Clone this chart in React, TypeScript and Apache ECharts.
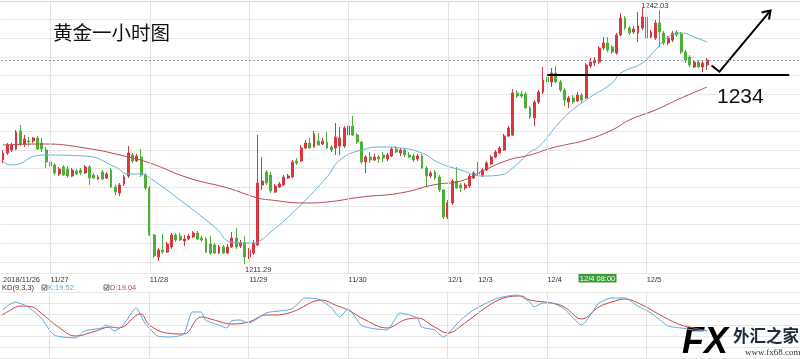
import React, { useEffect, useRef } from "react";
import * as echarts from "echarts";

// ---- time axis ----
const hours = [
  "00:00", "01:00", "02:00", "03:00", "04:00", "05:00", "06:00",
  "08:00", "09:00", "10:00", "11:00", "12:00", "13:00", "14:00", "15:00",
  "16:00", "17:00", "18:00", "19:00", "20:00", "21:00", "22:00", "23:00",
];
// [day, first hour slot, end hour slot (exclusive)]
const sessions: [string, number, number][] = [
  ["11/26", 12, 23], ["11/27", 0, 23], ["11/28", 0, 23], ["11/29", 0, 23],
  ["11/30", 0, 23], ["12/1", 0, 7], ["12/3", 7, 23], ["12/4", 0, 23],
  ["12/5", 0, 23], ["12/6", 0, 13],
];
const dayLabels = ["2018/11/26", "11/27", "11/28", "11/29", "11/30", "12/1", "12/3", "12/4", "12/5"];

// ---- hourly candles [open, close, low, high] ----
const candles: number[][] = [
  // 11/26
  [1223.8, 1224.64, 1223.44, 1225.0], [1224.64, 1225.6, 1224.4, 1225.84], [1225.0, 1225.6, 1224.76, 1225.84],
  [1225.12, 1227.16, 1225.0, 1227.4], [1227.28, 1225.72, 1225.48, 1228.0], [1225.72, 1226.32, 1225.36, 1226.8],
  [1226.08, 1225.96, 1225.48, 1226.56], [1226.08, 1226.44, 1225.84, 1226.56], [1226.44, 1225.12, 1225.0, 1226.68],
  [1225.84, 1225.12, 1224.76, 1226.44], [1225.0, 1223.56, 1222.84, 1225.36],
  // 11/27
  [1223.56, 1223.08, 1222.6, 1223.8], [1223.2, 1222.24, 1222.0, 1223.44], [1222.12, 1222.72, 1221.88, 1222.96],
  [1222.96, 1222.0, 1221.88, 1223.2], [1222.72, 1221.88, 1221.64, 1223.08], [1221.88, 1222.6, 1221.76, 1222.84],
  [1222.48, 1222.12, 1222.0, 1222.72], [1222.6, 1222.24, 1222.0, 1222.84], [1222.24, 1222.96, 1222.12, 1223.2],
  [1222.96, 1221.64, 1220.8, 1223.2], [1222.0, 1221.64, 1221.52, 1222.24], [1221.52, 1221.76, 1221.4, 1222.0],
  [1222.36, 1221.52, 1221.4, 1222.6], [1221.64, 1222.12, 1221.52, 1222.36], [1222.6, 1220.56, 1220.44, 1222.84],
  [1220.56, 1219.96, 1219.6, 1220.8], [1219.84, 1220.8, 1219.48, 1221.04], [1220.92, 1221.76, 1220.68, 1222.0],
  [1221.88, 1224.64, 1221.64, 1225.48], [1224.4, 1223.68, 1223.44, 1224.64], [1223.68, 1224.28, 1223.56, 1224.52],
  [1224.16, 1222.0, 1221.76, 1225.12], [1222.0, 1220.44, 1220.2, 1222.24],
  // 11/28
  [1220.44, 1214.8, 1214.68, 1220.68], [1214.8, 1212.28, 1212.04, 1214.92], [1212.16, 1213.0, 1211.68, 1213.24],
  [1213.0, 1212.76, 1212.52, 1214.92], [1212.76, 1213.72, 1212.64, 1213.96], [1213.36, 1214.8, 1213.12, 1215.04],
  [1214.8, 1214.2, 1213.96, 1215.04], [1214.68, 1214.2, 1214.08, 1215.04], [1214.08, 1214.32, 1213.48, 1214.8],
  [1214.32, 1214.68, 1214.2, 1214.92], [1214.56, 1215.04, 1214.44, 1215.28], [1215.04, 1214.32, 1214.2, 1215.28],
  [1214.44, 1214.2, 1213.96, 1214.68], [1214.32, 1212.76, 1212.64, 1214.56], [1213.72, 1212.64, 1212.4, 1214.68],
  [1213.6, 1212.64, 1212.52, 1213.84], [1212.64, 1213.36, 1212.52, 1213.6], [1213.36, 1212.64, 1212.52, 1213.6],
  [1212.64, 1213.36, 1212.52, 1213.72], [1213.36, 1214.44, 1213.24, 1215.16], [1214.44, 1213.36, 1213.12, 1215.64],
  [1213.48, 1213.84, 1213.24, 1214.2], [1213.84, 1212.16, 1211.29, 1214.68],
  // 11/29
  [1212.16, 1213.0, 1211.92, 1213.24], [1212.64, 1213.84, 1212.4, 1214.2], [1213.6, 1221.04, 1213.48, 1226.8],
  [1220.8, 1221.28, 1220.2, 1224.16], [1222.36, 1221.04, 1220.8, 1222.6], [1222.0, 1220.08, 1219.84, 1222.36],
  [1219.96, 1220.68, 1219.84, 1220.92], [1220.56, 1220.92, 1220.44, 1221.16], [1220.8, 1221.76, 1220.68, 1222.0],
  [1221.64, 1221.88, 1221.52, 1222.12], [1221.76, 1223.56, 1221.64, 1223.8], [1223.68, 1223.44, 1223.2, 1224.04],
  [1223.68, 1225.24, 1223.56, 1225.6], [1225.24, 1225.84, 1225.12, 1226.2], [1225.84, 1225.24, 1225.12, 1226.44],
  [1225.36, 1226.92, 1225.24, 1227.28], [1226.08, 1225.6, 1225.48, 1227.04], [1225.72, 1226.08, 1225.6, 1226.44],
  [1225.96, 1225.24, 1225.12, 1227.16], [1225.36, 1225.0, 1224.76, 1225.6], [1225.24, 1226.56, 1224.4, 1228.24],
  [1225.48, 1226.44, 1224.4, 1227.76], [1225.48, 1227.64, 1225.24, 1227.88],
  // 11/30
  [1226.8, 1227.88, 1226.56, 1228.84], [1227.88, 1226.8, 1226.68, 1229.08], [1226.8, 1225.96, 1225.72, 1227.04],
  [1225.96, 1223.56, 1223.32, 1226.08], [1223.56, 1224.16, 1222.24, 1224.4], [1224.16, 1223.8, 1223.44, 1224.76],
  [1223.8, 1224.16, 1223.68, 1224.52], [1224.16, 1223.92, 1223.44, 1224.4], [1224.4, 1224.04, 1223.56, 1224.76],
  [1223.92, 1224.4, 1223.68, 1224.64], [1224.28, 1225.12, 1224.16, 1225.36], [1225.12, 1224.76, 1224.64, 1225.48],
  [1224.64, 1225.0, 1224.28, 1225.24], [1225.0, 1224.4, 1224.16, 1225.12], [1224.4, 1224.16, 1224.04, 1224.76],
  [1224.28, 1223.8, 1223.56, 1224.52], [1223.92, 1224.28, 1223.68, 1224.52], [1224.28, 1222.84, 1222.72, 1224.52],
  [1222.84, 1221.88, 1220.68, 1223.08], [1221.88, 1222.24, 1221.64, 1222.48], [1222.36, 1221.64, 1221.4, 1222.6],
  [1221.76, 1220.2, 1219.96, 1222.0], [1220.2, 1216.96, 1216.72, 1220.32],
  // 12/1
  [1216.96, 1218.64, 1216.72, 1219.0], [1218.64, 1221.28, 1218.4, 1221.52], [1221.28, 1220.44, 1220.32, 1222.96],
  [1220.8, 1220.44, 1219.96, 1221.04], [1220.44, 1220.8, 1220.2, 1221.04], [1220.68, 1221.88, 1220.44, 1222.12],
  [1221.64, 1222.24, 1221.52, 1222.48],
  // 12/3
  [1222.36, 1222.12, 1221.88, 1223.56], [1222.0, 1222.6, 1221.76, 1222.84], [1222.6, 1223.44, 1222.48, 1223.68],
  [1223.32, 1224.16, 1223.2, 1224.4], [1224.16, 1224.76, 1224.04, 1225.0], [1224.64, 1225.24, 1224.52, 1225.48],
  [1225.0, 1226.68, 1224.88, 1226.92], [1226.68, 1227.64, 1226.56, 1227.88], [1226.8, 1231.84, 1226.68, 1232.32],
  [1231.84, 1231.48, 1231.24, 1232.2], [1231.72, 1231.48, 1231.24, 1232.08], [1231.72, 1230.04, 1229.92, 1231.96],
  [1230.04, 1228.96, 1228.72, 1230.28], [1228.84, 1230.76, 1227.88, 1231.0], [1230.76, 1231.96, 1230.52, 1232.2],
  [1231.96, 1233.4, 1231.72, 1234.96],
  // 12/4
  [1233.76, 1233.16, 1232.92, 1234.96], [1233.16, 1234.24, 1232.56, 1234.84], [1234.24, 1233.16, 1233.04, 1235.08],
  [1233.16, 1232.2, 1231.96, 1233.4], [1232.2, 1231.0, 1230.28, 1232.44], [1230.76, 1231.24, 1230.04, 1231.48],
  [1231.24, 1230.76, 1230.52, 1231.6], [1230.88, 1231.6, 1230.76, 1231.96], [1231.6, 1231.0, 1230.64, 1231.84],
  [1231.24, 1235.2, 1231.12, 1235.44], [1235.08, 1235.56, 1234.84, 1236.04], [1235.44, 1235.8, 1235.08, 1236.16],
  [1235.56, 1237.24, 1235.32, 1237.48], [1237.24, 1237.84, 1237.0, 1238.56], [1237.84, 1237.0, 1236.76, 1238.56],
  [1237.36, 1236.76, 1236.52, 1237.6], [1236.64, 1238.8, 1236.4, 1239.04], [1238.8, 1240.84, 1238.68, 1241.44],
  [1240.84, 1239.64, 1239.4, 1241.08], [1239.64, 1239.04, 1238.8, 1239.88], [1239.16, 1239.52, 1238.92, 1239.88],
  [1239.04, 1239.88, 1237.96, 1241.56], [1239.64, 1240.96, 1239.4, 1242.03],
  // 12/5
  [1240.96, 1238.44, 1238.2, 1241.2], [1238.56, 1239.16, 1238.44, 1239.4], [1238.44, 1240.24, 1238.2, 1240.6],
  [1240.24, 1239.16, 1237.36, 1241.8], [1239.04, 1237.84, 1237.6, 1239.28], [1237.84, 1238.44, 1237.6, 1238.68],
  [1238.2, 1239.04, 1237.96, 1239.28], [1239.16, 1238.8, 1238.56, 1239.4], [1238.92, 1236.76, 1236.52, 1239.16],
  [1236.76, 1235.8, 1235.44, 1237.0], [1236.16, 1235.2, 1234.96, 1236.4], [1234.96, 1235.56, 1234.84, 1235.8],
  [1235.56, 1234.96, 1234.84, 1235.8], [1234.96, 1235.44, 1234.36, 1235.68], [1235.2, 1235.8, 1234.6, 1236.04],
];

// moving averages, read at sampled candles [candle index, price]
const maShort: number[][] = [
  [0, 1223.56], [2, 1223.2], [9, 1224.4], [19, 1224.28], [26, 1222.96], [29, 1222.12], [32, 1222.12],
  [34, 1221.64], [41, 1219.0], [49, 1215.76], [53, 1213.96], [58, 1213.84], [59, 1213.96], [62, 1215.16],
  [67, 1217.44], [75, 1221.76], [78, 1223.8], [83, 1225.0], [88, 1225.36], [92, 1225.24], [97, 1224.64],
  [101, 1223.44], [106, 1222.6], [111, 1221.88], [115, 1222.0], [118, 1222.84], [122, 1224.76], [124, 1225.36],
  [130, 1228.96], [135, 1231.0], [141, 1233.04], [143, 1234.24], [148, 1235.44], [151, 1237.0], [154, 1238.56],
  [157, 1239.04], [160, 1238.56], [163, 1237.96],
];
const maLong: number[][] = [
  [0, 1225.6], [9, 1225.72], [19, 1225.24], [29, 1224.16], [34, 1223.44], [43, 1221.64], [52, 1220.44],
  [59, 1219.24], [62, 1219.0], [70, 1218.64], [75, 1218.76], [83, 1219.36], [92, 1219.84], [100, 1220.85],
  [106, 1221.28], [111, 1222.48], [117, 1223.8], [122, 1224.4], [127, 1225.24], [130, 1225.6], [135, 1226.2],
  [141, 1227.4], [145, 1228.6], [151, 1229.8], [157, 1231.24], [163, 1232.56],
];

// KD(9,3,3), read at sampled candles [candle index, value]
const kLine: number[][] = [
  [0, 62.5], [3, 79.2], [6, 68.8], [9, 45.8], [12, 10.4], [17, 4.2], [19, 18.8], [23, 25], [24, 31.3], [26, 18.8],
  [28, 31.3], [31, 66.7], [33, 35.4], [36, 8.3], [39, 6.3], [42, 12.5], [44, 58.3], [46, 58.3], [47, 41.7],
  [50, 31.3], [52, 25], [53, 39.6], [55, 41.7], [57, 35.4], [61, 56.3], [62, 58.3], [67, 64.6], [70, 87.5],
  [73, 85.4], [76, 68.8], [78, 47.9], [80, 64.6], [83, 31.3], [85, 25], [89, 20.8], [92, 56.3], [96, 45.8],
  [97, 27.1], [100, 20.8], [102, 6.3], [106, 41.7], [109, 62.5], [114, 85.4], [117, 91.7], [119, 93.8],
  [122, 79.2], [123, 68.8], [125, 77.1], [127, 77.1], [130, 64.6], [134, 31.3], [138, 77.1], [141, 87.5],
  [144, 87.5], [147, 70.8], [150, 56.3], [154, 29.2], [157, 25], [160, 20.8], [163, 19.52],
];
const dLine: number[][] = [
  [0, 52.1], [2, 62.5], [4, 70.8], [7, 68.8], [9, 56.3], [13, 27.1], [17, 8.3], [21, 16.7], [25, 27.1], [27, 25],
  [32, 54.2], [34, 31.3], [38, 14.6], [42, 12.5], [46, 47.9], [49, 41.7], [53, 33.3], [57, 37.5], [61, 52.1],
  [63, 52.1], [67, 58.3], [74, 83.3], [77, 72.9], [80, 62.5], [84, 41.7], [89, 25], [93, 41.7], [96, 45.8],
  [100, 27.1], [103, 14.6], [107, 35.4], [112, 68.8], [116, 87.5], [120, 91.7], [122, 83.3], [127, 77.1],
  [130, 68.8], [134, 43.8], [138, 68.8], [141, 79.2], [144, 85.4], [148, 72.9], [153, 47.9], [157, 31.3],
  [160, 25], [163, 19.04],
];
const kLast = "19.52";
const dLast = "19.04";
const supportLevel = 1234;
const highLabel = "1242.03";
const lowLabel = "1211.29";

const RED = "#d8373f";
const GREEN = "#4caf36";
const MA_BLUE = "#66b0dc";
const MA_RED = "#b84a52";
const K_BLUE = "#5aaad8";
const D_RED = "#c8434b";
const GRID = "#e8e8e8";
const FONT = "'Liberation Sans', Arial, sans-serif";

export default function App() {
  const ref = useRef<HTMLDivElement>(null);
  useEffect(() => {
    if (!ref.current) return;
    const chart = echarts.init(ref.current, undefined, { renderer: "svg" });

    const categories: string[] = [];
    const dayStart: number[] = [];
    sessions.forEach(([d, a, b]) => {
      dayStart.push(categories.length);
      for (let h = a; h < b; h++) categories.push(d + " " + hours[h]);
    });
    const labelAt: Record<number, string> = {};
    dayLabels.forEach((t, i) => (labelAt[dayStart[i]] = t));
    const vLines = dayLabels.slice(1).map((_, i) => ({ xAxis: categories[dayStart[i + 1]] }));

    const lastClose = candles[candles.length - 1][1];
    const lowIdx = candles.findIndex((c) => c[2] === Math.min(...candles.map((x) => x[2])));
    const highIdx = candles.findIndex((c) => c[3] === Math.max(...candles.map((x) => x[3])));
    const crossIdx = dayStart[7] + 7; // 12/4 08:00

    const vLineStyle = { color: "#e2e2e2", width: 1, type: "solid" as const };

    const option: any = {
      animation: false,
      textStyle: { fontFamily: FONT },
      grid: [
        { left: 0, right: 0, top: 1, height: 272 },
        { left: 0, right: 0, top: 292, height: 67 },
      ],
      xAxis: [
        {
          type: "category", gridIndex: 0, data: categories, boundaryGap: true,
          axisLine: { show: true, lineStyle: { color: "#d4d4d4" } },
          axisTick: { show: false },
          splitLine: { show: false },
          axisLabel: {
            interval: (i: number) => labelAt[i] !== undefined,
            formatter: (_v: string, i: number) => labelAt[i] || "",
            align: "left", fontSize: 7.5, color: "#333", margin: 2, fontFamily: FONT,
          },
        },
        {
          type: "category", gridIndex: 1, data: categories, boundaryGap: true,
          axisLine: { show: false }, axisTick: { show: false }, axisLabel: { show: false }, splitLine: { show: false },
        },
      ],
      yAxis: [
        { type: "value", gridIndex: 0, min: 1210.24, max: 1242.88, show: false },
        {
          type: "value", gridIndex: 0, min: 0, max: 14.604, interval: 1, inverse: true,
          axisLabel: { show: false }, axisLine: { show: false }, axisTick: { show: false },
          splitLine: { show: true, lineStyle: { color: GRID } },
        },
        { type: "value", gridIndex: 1, min: -39.6, max: 100, show: false },
        {
          type: "value", gridIndex: 1, min: 0, max: 6.0909, interval: 1, inverse: true,
          axisLabel: { show: false }, axisLine: { show: false }, axisTick: { show: false },
          splitLine: { show: true, lineStyle: { color: GRID } },
        },
      ],
      series: [
        {
          type: "candlestick", xAxisIndex: 0, yAxisIndex: 0, data: candles, barWidth: 2.4,
          itemStyle: { color: RED, color0: GREEN, borderColor: RED, borderColor0: GREEN, borderWidth: 1 },
          markLine: {
            symbol: ["none", "none"], silent: true, label: { show: false },
            lineStyle: vLineStyle,
            data: [
              ...vLines,
              { yAxis: lastClose, lineStyle: { color: "#8a9cb2", width: 1, type: [2, 2] } },
            ],
          },
        },
        {
          type: "line", xAxisIndex: 0, yAxisIndex: 0, data: maShort, smooth: true, showSymbol: false,
          lineStyle: { color: MA_BLUE, width: 1 }, silent: true,
        },
        {
          type: "line", xAxisIndex: 0, yAxisIndex: 0, data: maLong, smooth: true, showSymbol: false,
          lineStyle: { color: MA_RED, width: 1 }, silent: true,
          markLine: {
            symbol: ["none", "none"], silent: true, label: { show: false },
            data: [[
              { coord: [categories[dayStart[7]], supportLevel] },
              { coord: [categories[182], supportLevel] },
            ]],
            lineStyle: { color: "#000", width: 2, type: "solid" },
          },
        },
        {
          type: "line", xAxisIndex: 1, yAxisIndex: 2, data: dLine, smooth: 0.4, showSymbol: false,
          lineStyle: { color: D_RED, width: 1 }, silent: true,
          markLine: {
            symbol: ["none", "none"], silent: true, label: { show: false },
            lineStyle: vLineStyle, data: vLines,
          },
        },
        {
          type: "line", xAxisIndex: 1, yAxisIndex: 2, data: kLine, smooth: 0.2, showSymbol: false,
          lineStyle: { color: K_BLUE, width: 1 }, silent: true,
        },
      ],
    };
    chart.setOption(option);

    // place annotations anchored to data where possible
    const hx = chart.convertToPixel({ xAxisIndex: 0 }, categories[highIdx]) as number;
    const hy = chart.convertToPixel({ yAxisIndex: 0 }, candles[highIdx][3]) as number;
    const lx = chart.convertToPixel({ xAxisIndex: 0 }, categories[lowIdx]) as number;
    const ly = chart.convertToPixel({ yAxisIndex: 0 }, candles[lowIdx][2]) as number;
    const cx = chart.convertToPixel({ xAxisIndex: 0 }, categories[crossIdx]) as number;

    const small = { fontSize: 7.5, fontFamily: FONT, fill: "#333", verticalAlign: "middle", align: "left" };
    const check = (x: number, y: number) => ({
      type: "group", x, y,
      children: [
        { type: "rect", shape: { x: 0, y: 0, width: 5, height: 5 }, style: { fill: "#fff", stroke: "#555", lineWidth: 0.8 } },
        { type: "polyline", shape: { points: [[1, 2.5], [2.2, 3.8], [4.2, 1]] }, style: { stroke: "#222", lineWidth: 0.9, fill: null } },
      ],
    });

    chart.setOption({
      graphic: {
        elements: [
          { type: "text", x: 53, y: 31.5, style: { text: "黄金一小时图", fontSize: 19.5, fontFamily: "'Noto Sans CJK SC'", fill: "#111", verticalAlign: "middle", align: "left" } },
          { type: "text", x: hx - 1, y: hy - 3, style: { ...small, text: highLabel } },
          { type: "text", x: lx, y: ly + 5.5, style: { ...small, text: lowLabel } },
          { type: "rect", shape: { x: cx + 1, y: 274, width: 38, height: 8.5 }, style: { fill: "#3a9c33" } },
          { type: "text", x: cx + 20, y: 278.3, style: { ...small, fill: "#fff", align: "center", text: "12/4 08:00" } },
          { type: "text", x: 2, y: 287.5, style: { ...small, text: "KD(9,3,3)" } },
          check(42, 285),
          { type: "text", x: 48, y: 287.5, style: { ...small, fill: K_BLUE, text: "K:" + kLast } },
          check(104, 285),
          { type: "text", x: 110, y: 287.5, style: { ...small, fill: D_RED, text: "D:" + dLast } },
          // hand-drawn arrow
          { type: "polyline", shape: { points: [[711.5, 65.5], [719.5, 71.7], [770.5, 10.5]] }, style: { stroke: "#000", lineWidth: 2, fill: null } },
          { type: "polyline", shape: { points: [[761.5, 12.5], [770.5, 10.5], [769, 19.5]] }, style: { stroke: "#000", lineWidth: 2, fill: null } },
          { type: "text", x: 717, y: 95, style: { text: String(supportLevel), fontSize: 21, fontFamily: FONT, fill: "#111", verticalAlign: "middle", align: "left" } },
          // watermark logo
          {
            type: "text", x: 682, y: 340, style: {
              text: "FX", fontSize: 36, fontWeight: "bold", fontStyle: "italic", fontFamily: FONT,
              verticalAlign: "middle", align: "left",
              fill: new echarts.graphic.LinearGradient(0, 0, 0, 1, [
                { offset: 0, color: "#8fcaf2" }, { offset: 1, color: "#2a7bd0" },
              ]),
            },
          },
          { type: "text", x: 733, y: 335, style: { text: "外汇之家", fontSize: 16.5, fontWeight: "bold", fontFamily: "'Noto Sans CJK SC'", fill: "#1d2a3c", verticalAlign: "middle", align: "left" } },
          { type: "text", x: 745, y: 351.5, style: { text: "www.fx68.com", fontSize: 9, fontFamily: "'Liberation Serif', serif", fill: "#333", verticalAlign: "middle", align: "left" } },
        ],
      },
    });

    return () => chart.dispose();
  }, []);

  return <div ref={ref} style={{ position: "fixed", left: 0, top: 0, width: 800, height: 359 }} />;
}
